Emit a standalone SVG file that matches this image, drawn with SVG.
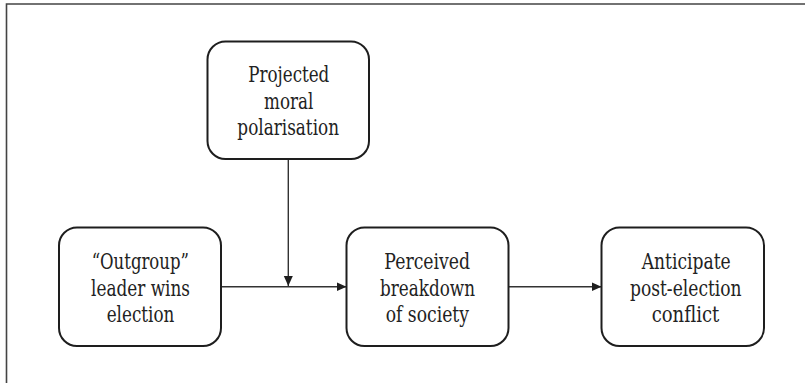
<svg xmlns="http://www.w3.org/2000/svg" width="805" height="383" viewBox="0 0 805 383">
<style>
.box{fill:#fff;stroke:#1e1e1e;stroke-width:2}
.lbl{font-family:'DejaVu Serif','Liberation Serif',serif;font-size:23px;fill:#222;text-anchor:middle}
.conn{stroke:#333;stroke-width:1.4;fill:none}
</style>
<defs>
<marker id="ah" viewBox="0 0 10 10" refX="10" refY="5" markerWidth="10" markerHeight="10" markerUnits="userSpaceOnUse" orient="auto">
<path d="M0,0.5 L10,5 L0,9.5 Z" fill="#1e1e1e"/>
</marker>
</defs>
<rect width="805" height="383" fill="#fff"/>
<path d="M6.5,383 V4 H805" fill="none" stroke="#444" stroke-width="1.6"/>
<g id="connectors">
<line class="conn" x1="221" y1="286.7" x2="346.5" y2="286.7" marker-end="url(#ah)"/>
<line class="conn" x1="508.5" y1="286.7" x2="601.5" y2="286.7" marker-end="url(#ah)"/>
<line class="conn" x1="288.3" y1="159" x2="288.3" y2="286" marker-end="url(#ah)"/>
</g>
<g id="node-moral">
<rect class="box" x="207.5" y="41.5" width="161.5" height="117.5" rx="18"/>
<text class="lbl" x="288.8" y="82" textLength="81" lengthAdjust="spacingAndGlyphs">Projected</text>
<text class="lbl" x="288.7" y="108.5" textLength="49.3" lengthAdjust="spacingAndGlyphs">moral</text>
<text class="lbl" x="288.2" y="134.5" textLength="101.7" lengthAdjust="spacingAndGlyphs">polarisation</text>
</g>
<g id="node-outgroup">
<rect class="box" x="59" y="227.5" width="162" height="118.5" rx="18"/>
<text class="lbl" x="140.3" y="269.3" textLength="97.3" lengthAdjust="spacingAndGlyphs">“Outgroup”</text>
<text class="lbl" x="140.5" y="295.5" textLength="99" lengthAdjust="spacingAndGlyphs">leader wins</text>
<text class="lbl" x="140.5" y="321.5" textLength="67.6" lengthAdjust="spacingAndGlyphs">election</text>
</g>
<g id="node-breakdown">
<rect class="box" x="346.5" y="227.5" width="162" height="118.5" rx="18"/>
<text class="lbl" x="427.2" y="269.3" textLength="85.7" lengthAdjust="spacingAndGlyphs">Perceived</text>
<text class="lbl" x="427.5" y="295.5" textLength="95" lengthAdjust="spacingAndGlyphs">breakdown</text>
<text class="lbl" x="427.3" y="321.5" textLength="83.3" lengthAdjust="spacingAndGlyphs">of society</text>
</g>
<g id="node-conflict">
<rect class="box" x="601.5" y="227.5" width="162.5" height="118.5" rx="18"/>
<text class="lbl" x="686.2" y="269.3" textLength="89" lengthAdjust="spacingAndGlyphs">Anticipate</text>
<text class="lbl" x="685.8" y="295.5" textLength="111.7" lengthAdjust="spacingAndGlyphs">post-election</text>
<text class="lbl" x="685.5" y="321.5" textLength="67.6" lengthAdjust="spacingAndGlyphs">conflict</text>
</g>
</svg>
